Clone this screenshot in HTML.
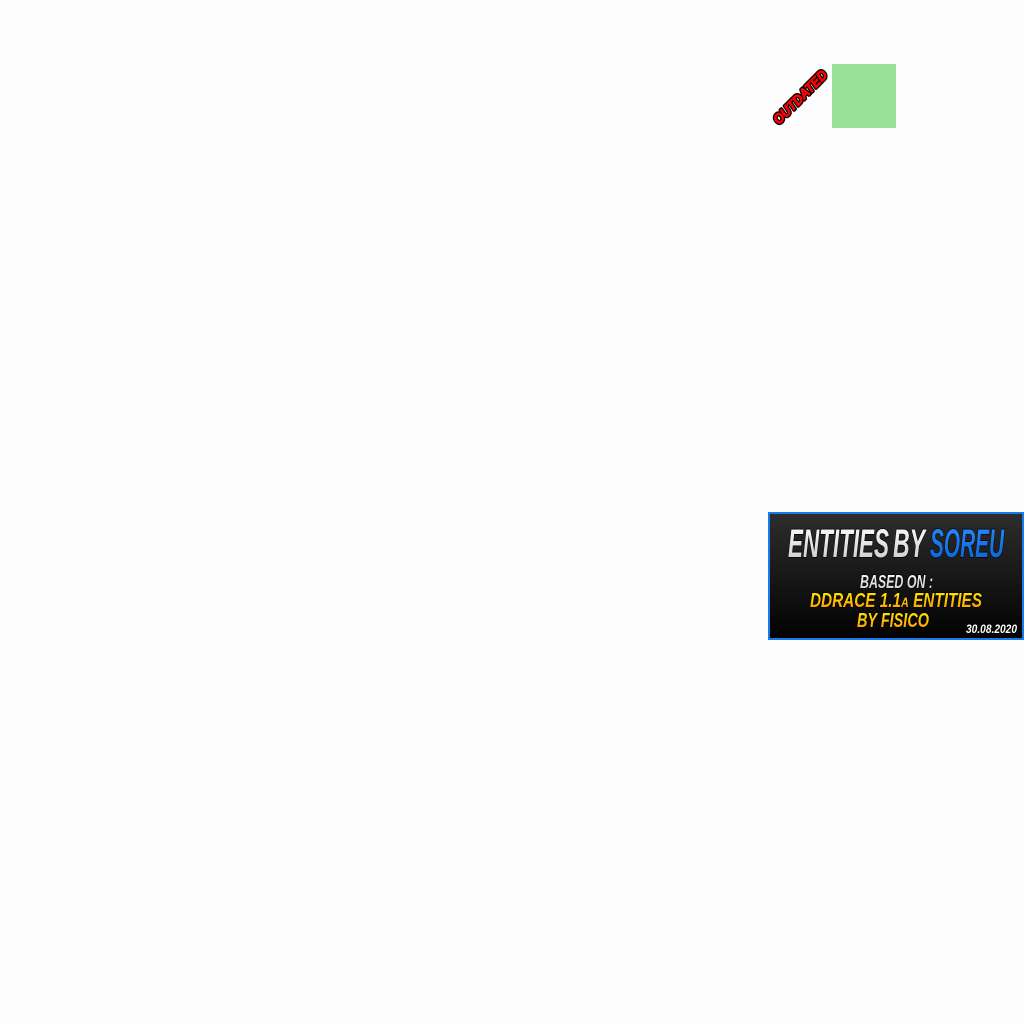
<!DOCTYPE html>
<html><head><meta charset="utf-8"><style>
html,body{margin:0;padding:0;background:#fdfdfd;}
svg{display:block;}
</style></head><body>
<svg width="1024" height="1024" viewBox="0 0 1024 1024" xmlns="http://www.w3.org/2000/svg">
<defs>
<linearGradient id="bg" x1="0" y1="0" x2="0" y2="1">
<stop offset="0" stop-color="#2d2d2d"/><stop offset="1" stop-color="#020202"/>
</linearGradient>
<linearGradient id="wt" x1="0" y1="0" x2="0" y2="1">
<stop offset="0" stop-color="#ffffff"/><stop offset="1" stop-color="#c8c8c8"/>
</linearGradient>
<linearGradient id="bl" x1="0" y1="0" x2="0" y2="1">
<stop offset="0" stop-color="#2a8cff"/><stop offset="1" stop-color="#0a5fd0"/>
</linearGradient>
<linearGradient id="yl" x1="0" y1="0" x2="0" y2="1">
<stop offset="0" stop-color="#fff000"/><stop offset="1" stop-color="#ff9000"/>
</linearGradient>
</defs>
<rect x="0" y="0" width="1024" height="1024" fill="#fdfdfd"/>
<rect x="832" y="64" width="64" height="64" fill="#99e099"/>
<g transform="translate(800,97) rotate(-45)" font-family="Liberation Sans, sans-serif" font-weight="bold" font-style="italic">
<text x="0" y="5" text-anchor="middle" font-size="14" textLength="70" lengthAdjust="spacingAndGlyphs" fill="#ff0000" stroke="#000" stroke-width="3.5" paint-order="stroke" stroke-linejoin="round">OUTDATED</text>
<text x="0" y="5" text-anchor="middle" font-size="14" textLength="70" lengthAdjust="spacingAndGlyphs" fill="#ff0000" stroke="#ff0000" stroke-width="0.8">OUTDATED</text>
</g>
<rect x="769" y="513" width="254" height="126" fill="url(#bg)" stroke="#1a78f0" stroke-width="2"/>
<g font-family="Liberation Sans, sans-serif" font-weight="bold" font-style="italic" stroke="#000" stroke-width="1.5" paint-order="stroke" stroke-linejoin="round">
<text x="788" y="557" font-size="40" textLength="101" lengthAdjust="spacingAndGlyphs" fill="url(#wt)">ENTITIES</text>
<text x="893" y="557" font-size="40" textLength="32" lengthAdjust="spacingAndGlyphs" fill="url(#wt)">BY</text>
<text x="930" y="557" font-size="40" textLength="74" lengthAdjust="spacingAndGlyphs" fill="url(#bl)">SOREU</text>
<text x="860" y="588" font-size="18" textLength="73" lengthAdjust="spacingAndGlyphs" fill="url(#wt)">BASED ON :</text>
<text x="810" y="607" font-size="20" textLength="172" lengthAdjust="spacingAndGlyphs" fill="url(#yl)">DDRACE 1.1<tspan font-size="14">A</tspan> ENTITIES</text>
<text x="857" y="627" font-size="20" textLength="72" lengthAdjust="spacingAndGlyphs" fill="url(#yl)">BY FISICO</text>
<text x="966" y="633" font-size="12" textLength="51" lengthAdjust="spacingAndGlyphs" fill="#ffffff" stroke-width="1">30.08.2020</text>
</g>
</svg>
</body></html>
